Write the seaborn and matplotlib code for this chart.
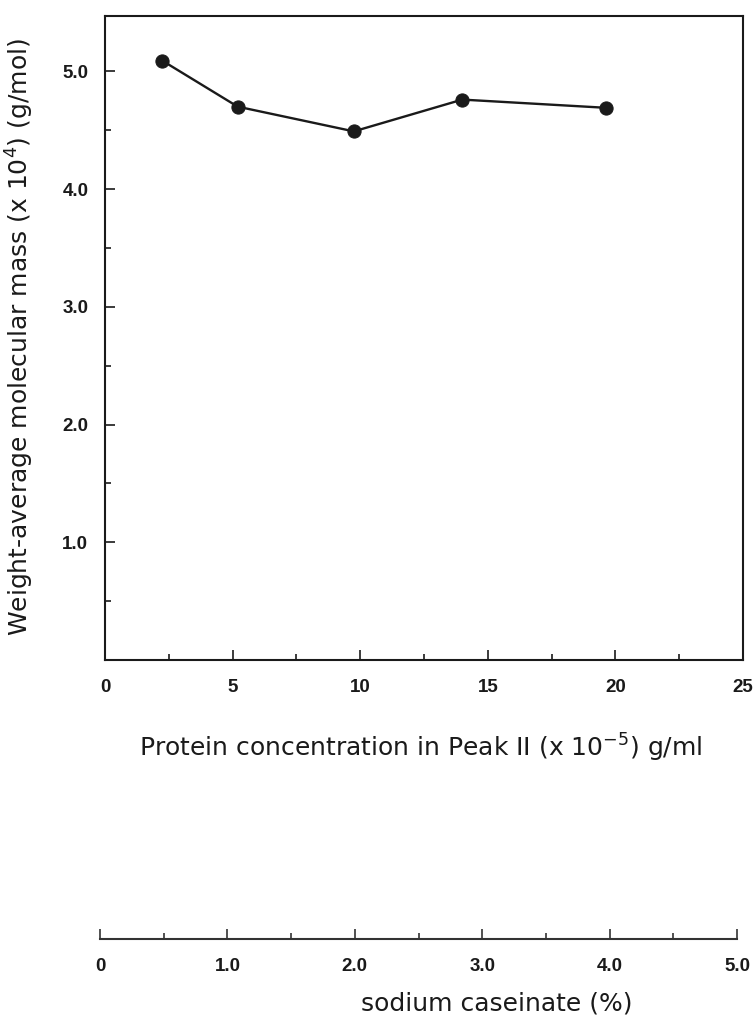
import matplotlib
matplotlib.use("Agg")
import matplotlib.pyplot as plt
import seaborn as sns
import pandas as pd
from matplotlib.ticker import MultipleLocator, FixedLocator

# ---- data ----
conc = [2.25, 5.2, 9.75, 14.0, 19.65]          # protein conc in Peak II (x 1e-5 g/ml)
mw = [5.09, 4.70, 4.49, 4.76, 4.69]             # weight-average molecular mass (x 1e4 g/mol)
x_ticks = [0, 5, 10, 15, 20, 25]
x_ticklabels = ["0", "5", "10", "15", "20", "25"]
y_ticks = [1.0, 2.0, 3.0, 4.0, 5.0]
y_ticklabels = ["1.0", "2.0", "3.0", "4.0", "5.0"]
cas_ticks = [0, 1, 2, 3, 4, 5]
cas_ticklabels = ["0", "1.0", "2.0", "3.0", "4.0", "5.0"]

sns.set_style("ticks")
plt.rcParams["font.family"] = ["Liberation Sans", "DejaVu Sans"]
plt.rcParams["mathtext.default"] = "regular"

W, H = 755, 1028
fig = plt.figure(figsize=(W / 100, H / 100), dpi=100)

# main axes
ax = fig.add_axes([105 / W, 1 - 660 / H, (743 - 105) / W, (660 - 16) / H])
df = pd.DataFrame({"conc": conc, "mw": mw})
sns.lineplot(data=df, x="conc", y="mw", ax=ax, color="#1a1a1a", lw=1.7,
             marker="o", markersize=9.5, markeredgecolor="#1a1a1a",
             markerfacecolor="#1a1a1a")
ax.set_xlim(0, 25)
ax.set_ylim(0, 5.47)
ax.xaxis.set_major_locator(FixedLocator(x_ticks))
ax.set_xticklabels(x_ticklabels)
ax.xaxis.set_minor_locator(MultipleLocator(2.5))
ax.yaxis.set_major_locator(FixedLocator(y_ticks))
ax.set_yticklabels(y_ticklabels)
ax.yaxis.set_minor_locator(MultipleLocator(0.5))
ax.set_xlabel("")
ax.set_ylabel("")
for s in ax.spines.values():
    s.set_linewidth(1.5)
    s.set_color("#1a1a1a")
ax.tick_params(which="both", direction="in", top=False, right=False,
               color="#1a1a1a", width=1.2)
ax.tick_params(which="major", length=7)
ax.tick_params(which="minor", length=4.5)
ax.tick_params(axis="x", which="major", pad=14, labelsize=13.5)
ax.tick_params(axis="y", which="major", pad=12, labelsize=13.5)
for lab in ax.get_xticklabels() + ax.get_yticklabels():
    lab.set_fontweight("bold")
    lab.set_color("#1a1a1a")

# secondary (sodium caseinate) axis
ax2 = fig.add_axes([100 / W, 1 - 939 / H, (737 - 100) / W, 0.0001])
ax2.set_xlim(0, 5)
ax2.set_yticks([])
for k in ["left", "right", "top"]:
    ax2.spines[k].set_visible(False)
ax2.spines["bottom"].set_linewidth(1.5)
ax2.spines["bottom"].set_color("#333333")
ax2.xaxis.set_major_locator(FixedLocator(cas_ticks))
ax2.set_xticklabels(cas_ticklabels)
ax2.xaxis.set_minor_locator(MultipleLocator(0.5))
ax2.tick_params(which="both", direction="in", color="#333333", width=1.2)
ax2.tick_params(which="major", length=7, pad=14, labelsize=13.5)
ax2.tick_params(which="minor", length=4.5)
ax2.patch.set_alpha(0)
for lab in ax2.get_xticklabels():
    lab.set_fontweight("bold")
    lab.set_color("#1a1a1a")

# labels
lab_font = ["DejaVu Sans"]
fig.text(421 / W, 1 - 748 / H, "Protein concentration in Peak II (x 10$^{-5}$) g/ml",
         ha="center", va="center", fontsize=18, color="#1a1a1a", family=lab_font)
fig.text(20 / W, 1 - 337 / H, "Weight-average molecular mass (x 10$^{4}$) (g/mol)",
         ha="center", va="center", rotation=90, fontsize=18, color="#1a1a1a",
         family=lab_font)
fig.text(497 / W, 1 - 1003 / H, "sodium caseinate (%)",
         ha="center", va="center", fontsize=18, color="#1a1a1a", family=lab_font)

fig.savefig("out.png", dpi=100, facecolor="white")
